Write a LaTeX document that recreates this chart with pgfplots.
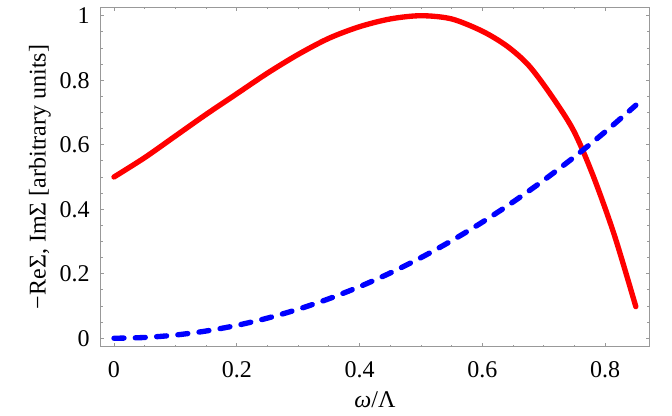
\documentclass[border=0pt]{standalone}
\usepackage{fontspec}
\setmainfont{Liberation Serif}
\usepackage{pgfplots}
\pgfplotsset{compat=1.18}

\definecolor{framegray}{rgb}{0.6,0.6,0.6}

\begin{document}
\begin{tikzpicture}
\begin{axis}[
  scale only axis,
  width=411.5pt, height=254.5pt,
  xmin=-0.0217, xmax=0.872,
  ymin=-0.026, ymax=1.026,
  xtick={0,0.2,0.4,0.6,0.8},
  ytick={0,0.2,0.4,0.6,0.8,1},
  minor x tick num=3,
  minor y tick num=3,
  major tick length=2.8pt,
  minor tick length=1.6pt,
  tick align=inside,
  every tick/.style={framegray, line width=0.6pt},
  axis line style={framegray, line width=0.8pt},
  font=\fontsize{18}{21}\selectfont,
  /pgf/number format/assume math mode=true,
  xticklabel style={anchor=center, inner sep=0pt, yshift=-17pt},
  yticklabel style={anchor=east, inner sep=0pt, xshift=-8pt},
  xlabel={\textit{ω}/Λ},
  ylabel={−ReΣ, ImΣ [arbitrary units]},
  xlabel style={at={(axis description cs:0.5,-0.155)}, anchor=center},
  ylabel style={at={(axis description cs:-0.1106,0.5)}, anchor=center},
]
\coordinate (ll) at (rel axis cs:0,0);
% Re part
\addplot[red, line width=4pt, line join=round, line cap=round, smooth, tension=0.5] coordinates {
  (0.000,0.500) (0.050,0.560) (0.100,0.627) (0.150,0.694) (0.200,0.758)
  (0.250,0.822) (0.300,0.880) (0.350,0.930) (0.400,0.966) (0.450,0.990)
  (0.500,1.000) (0.550,0.990) (0.600,0.952) (0.640,0.906) (0.675,0.847)
  (0.710,0.759) (0.748,0.646) (0.780,0.506) (0.815,0.320) (0.850,0.098)
};
% Im part
\addplot[blue, line width=4pt, line cap=round, smooth, dash pattern=on 7.5pt off 8.5pt] coordinates {
  (0.00,0.0000) (0.05,0.0025) (0.10,0.0100) (0.15,0.0225) (0.20,0.0400)
  (0.25,0.0625) (0.30,0.0900) (0.35,0.1225) (0.40,0.1600) (0.45,0.2025)
  (0.50,0.2500) (0.55,0.3025) (0.60,0.3600) (0.65,0.4225) (0.70,0.4900)
  (0.75,0.5625) (0.80,0.6400) (0.85,0.7225)
};
\end{axis}
\pgfresetboundingbox
\path[use as bounding box] (ll) ++(-75.5pt,-52pt) rectangle ++(504pt,312pt);
\end{tikzpicture}
\end{document}
